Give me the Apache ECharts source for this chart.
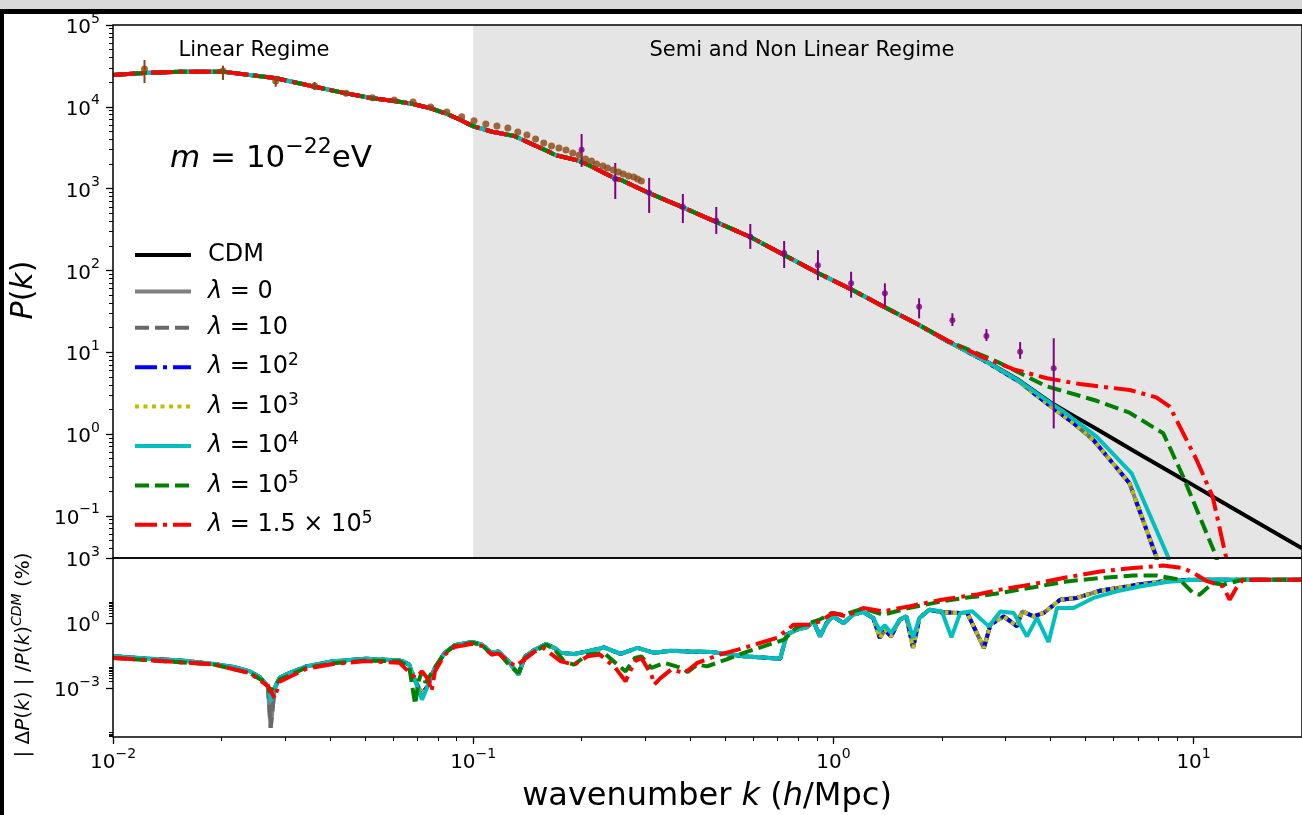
<!DOCTYPE html>
<html>
<head>
<meta charset="utf-8">
<title>P(k) for m = 1e-22 eV</title>
<script src="https://cdn.jsdelivr.net/npm/echarts@6/dist/echarts.min.js"></script>
<style>
  html, body { margin: 0; padding: 0; background: #fff; }
  #chart { width: 1302px; height: 815px; }
</style>
</head>
<body>
<div id="chart"></div>
<script>
const FONT = 'DejaVu Sans'

// ---- tick values ----
const xTicks = [0.01, 0.1, 1, 10]
const yTopTicks = [0.1, 1, 10, 100, 1e3, 1e4, 1e5]
const yBotTicks = [1e-3, 1, 1e3]

// ---- legend names ----
const names = ['CDM', 'λ=0', 'λ=10', 'λ=10^2', 'λ=10^3', 'λ=10^4', 'λ=10^5', 'λ=1.5×10^5']

// ---- power spectrum, CDM (shared by all models at low k) ----
const cdmPk = [
  [0.01, 24500], [0.0122, 25900], [0.0154, 26900], [0.0202, 26900], [0.0284, 22300],
  [0.0363, 17600], [0.0444, 14600], [0.0525, 12700], [0.0604, 11800], [0.0681, 10800],
  [0.0762, 9600], [0.0845, 8170], [0.0923, 6900], [0.0995, 5820], [0.113, 4960],
  [0.130, 4400], [0.136, 4010], [0.162, 2830], [0.169, 2570], [0.193, 2240],
  [0.204, 2040], [0.247, 1340], [0.258, 1270], [0.306, 891], [0.382, 590],
  [0.588, 256], [0.906, 93], [1.12, 58.7], [1.38, 36], [1.71, 22.1],
  [2.09, 13.4], [2.62, 8.04], [3.27, 4.57], [4.0, 2.45], [4.7, 1.62],
  [5.38, 1.15], [6.96, 0.59], [9.65, 0.258], [12.6, 0.13], [20, 0.040]
]
// high-k tails of the models
const tailLow = [[2.09, 13.3], [2.62, 7.9], [3.27, 4.4], [4.0, 2.2], [4.7, 1.3], [5.27, 0.845], [6.64, 0.25], [7.88, 0.0317], [8.6, 0.003]]
const tailCyan = [[2.09, 13.4], [2.62, 8.0], [3.27, 4.5], [4.0, 2.4], [4.36, 1.87], [5.38, 0.927], [6.73, 0.331], [8.49, 0.0317], [9.2, 0.003]]
const tailGreen = [[2.09, 13.6], [2.85, 7.65], [3.89, 3.86], [5.38, 2.55], [6.64, 1.82], [8.24, 1.02], [9.36, 0.30], [11.56, 0.0317], [12.5, 0.003]]
const tailRed = [[2.09, 13.6], [2.62, 8.6], [3.17, 6.18], [3.92, 4.80], [4.84, 4.08], [6.65, 3.45], [7.88, 2.81], [8.59, 2.16], [10.2, 0.481], [11.3, 0.171], [12.3, 0.0317], [13.2, 0.003]]

// ---- data points ----
const brownPts = [
  [0.01223, 28970], [0.0202, 27400], [0.0283, 20650], [0.0363, 17950], [0.0444, 14620],
  [0.0525, 12900], [0.0604, 12100], [0.0681, 11450], [0.0762, 9950], [0.0845, 8640],
  [0.0929, 7560], [0.1005, 6760], [0.1084, 6160], [0.1164, 5820], [0.1248, 5510],
  [0.133, 4920], [0.141, 4520], [0.149, 4040], [0.157, 3610], [0.165, 3320],
  [0.173, 3130], [0.181, 2960], [0.189, 2720], [0.197, 2570], [0.205, 2300],
  [0.213, 2170], [0.220, 2000], [0.229, 1890], [0.236, 1790], [0.245, 1690],
  [0.253, 1600], [0.261, 1510], [0.270, 1430], [0.279, 1390], [0.286, 1310], [0.293, 1240]
]
const brownErr = [[0.01223, 19540, 37300], [0.0202, 21300, 31800], [0.0283, 17600, 23300], [0.0363, 16000, 20100]]
const purplePts = [
  [0.2, 2990], [0.248, 1310], [0.308, 891], [0.382, 596], [0.473, 405], [0.588, 258],
  [0.730, 163], [0.906, 116], [1.12, 69.5], [1.39, 52.5], [1.73, 36], [2.14, 24.5],
  [2.66, 15.8], [3.30, 10.1], [4.09, 6.36]
]
const purpleErr = [
  [0.2, 1840, 4650], [0.248, 747, 2060], [0.308, 504, 1350], [0.382, 379, 859],
  [0.473, 279, 596], [0.588, 183, 369], [0.730, 107, 229], [0.906, 76, 177],
  [1.12, 46.4, 96.4], [1.39, 36, 69.5], [1.73, 25.9, 45.6], [2.14, 20.9, 29.9],
  [2.66, 13.7, 19.2], [3.30, 8.3, 13.3], [4.09, 1.17, 14.8]
]

// ---- |dP|/P_CDM (%) ----
const relLow = [
  [0.01, 0.0295], [0.0127, 0.0229], [0.0157, 0.0186], [0.019, 0.0132], [0.0216, 0.0095],
  [0.024, 0.0060], [0.0256, 0.0032], [0.0269, 0.00123], [0.0274, 0.0005], [0.0281, 0.0010],
  [0.029, 0.0030], [0.0309, 0.0050], [0.0344, 0.0102], [0.0408, 0.0174], [0.0504, 0.0229],
  [0.0624, 0.019], [0.0637, 0.0174], [0.0664, 0.0123], [0.0691, 0.0021], [0.0721, 0.00051],
  [0.0751, 0.00148], [0.0783, 0.0087], [0.0833, 0.0427], [0.0887, 0.095], [0.0994, 0.135],
  [0.1058, 0.102], [0.1126, 0.0427], [0.1174, 0.050], [0.1254, 0.0174], [0.1335, 0.0043],
  [0.1393, 0.0295], [0.1483, 0.060], [0.1595, 0.110], [0.1681, 0.072], [0.1752, 0.0427],
  [0.1906, 0.038], [0.2076, 0.050], [0.2307, 0.076], [0.2568, 0.038], [0.2859, 0.072],
  [0.3182, 0.043], [0.3542, 0.054], [0.3941, 0.050], [0.457, 0.047], [0.5637, 0.0295],
  [0.7117, 0.023], [0.7419, 0.295], [0.7914, 0.50], [0.8439, 0.65], [0.8808, 1.2],
  [0.9181, 0.245], [0.9575, 1.0], [0.9984, 2.04], [1.066, 1.0], [1.134, 2.45],
  [1.21, 3.24], [1.29, 1.74], [1.346, 0.21], [1.389, 0.50], [1.446, 0.245],
  [1.529, 1.45], [1.595, 2.04], [1.664, 0.072], [1.734, 1.74], [1.847, 4.17],
  [2.0, 3.16], [2.25, 2.95], [2.353, 2.95], [2.617, 0.072], [2.729, 0.85],
  [2.972, 2.04], [3.236, 0.71], [3.339, 3.47], [3.597, 2.04], [3.835, 2.95],
  [4.262, 12], [4.741, 14.5], [5.499, 31], [6.801, 55], [8.41, 89], [10, 100], [20, 100]
]
const greyDip = [0.0274, 1.5e-5]
const cyanDips = [[0.0274, 0.00025], [0.0721, 0.0003]]
const relCyanTail = [
  [1.346, 0.45], [1.389, 0.79], [1.446, 0.35], [1.529, 1.45], [1.595, 2.04], [1.664, 0.21],
  [1.734, 1.74], [1.847, 4.17], [2.0, 3.55], [2.127, 0.22], [2.25, 2.95], [2.43, 3.55],
  [2.701, 0.71], [2.908, 3.47], [3.167, 2.95], [3.447, 0.245], [3.674, 1.74], [3.959, 0.135],
  [4.178, 5.0], [4.643, 5.0], [5.272, 14.5], [6.116, 29], [7.093, 49], [8.41, 79], [10, 100], [20, 100]
]
const relGreen = [
  [0.01, 0.025], [0.019, 0.0126], [0.024, 0.005], [0.0269, 0.0016], [0.0272, 0.00063],
  [0.029, 0.0025], [0.0344, 0.0089], [0.0408, 0.0141], [0.0504, 0.019], [0.0624, 0.0174],
  [0.0664, 0.0102], [0.069, 0.00018], [0.0705, 0.0021], [0.0721, 0.006], [0.0737, 0.0018],
  [0.0783, 0.0087], [0.0833, 0.040], [0.0887, 0.089], [0.0994, 0.126], [0.1058, 0.095],
  [0.1126, 0.0355], [0.1174, 0.045], [0.1254, 0.0126], [0.1335, 0.005], [0.1393, 0.025],
  [0.1483, 0.050], [0.1595, 0.10], [0.1681, 0.063], [0.1787, 0.0174], [0.1906, 0.0123],
  [0.2076, 0.0355], [0.2307, 0.0427], [0.2483, 0.0148], [0.2648, 0.006], [0.2812, 0.025],
  [0.2929, 0.0295], [0.3124, 0.0087], [0.3396, 0.0148], [0.3788, 0.0087], [0.3941, 0.0056],
  [0.4191, 0.0123], [0.4456, 0.0102], [0.5037, 0.021], [0.5637, 0.0427], [0.7299, 0.174],
  [0.7914, 0.65], [0.9165, 1.45], [0.9878, 2.95], [1.066, 2.45], [1.21, 4.7],
  [1.375, 2.45], [1.621, 5.0], [1.998, 10], [2.353, 15], [2.51, 17], [2.908, 24.5],
  [3.597, 45], [4.448, 83], [5.499, 120], [6.801, 155], [7.889, 155], [9.155, 100],
  [9.968, 24.5], [10.39, 20.4], [11.32, 71], [12.07, 59], [13.71, 100], [20, 100]
]
const relRed = [
  [0.01, 0.025], [0.019, 0.0126], [0.024, 0.005], [0.0269, 0.00126], [0.0281, 0.00035],
  [0.029, 0.002], [0.0344, 0.0079], [0.0408, 0.0132], [0.0504, 0.0178], [0.0624, 0.0148],
  [0.0691, 0.003], [0.0721, 0.006], [0.0751, 0.0025], [0.0766, 0.00072], [0.0783, 0.006],
  [0.0833, 0.0355], [0.0887, 0.079], [0.0994, 0.112], [0.1058, 0.089], [0.1126, 0.0355],
  [0.1174, 0.040], [0.1311, 0.0102], [0.1483, 0.050], [0.1566, 0.072], [0.1752, 0.0174],
  [0.1906, 0.0123], [0.2076, 0.0295], [0.2247, 0.0355], [0.2483, 0.0087], [0.2648, 0.0021],
  [0.2812, 0.0174], [0.2929, 0.025], [0.3124, 0.0043], [0.3182, 0.00148], [0.3319, 0.003],
  [0.3542, 0.0072], [0.3869, 0.0051], [0.4191, 0.0148], [0.4835, 0.0355], [0.5637, 0.072],
  [0.6973, 0.21], [0.7762, 0.85], [0.8596, 0.85], [0.9181, 1.2], [0.9984, 2.95],
  [1.081, 2.04], [1.21, 5.0], [1.375, 3.47], [1.621, 5.9], [1.998, 12], [2.51, 21],
  [2.908, 35], [3.597, 63], [4.448, 129], [5.499, 240], [6.801, 347], [8.234, 447],
  [9.355, 347], [10.18, 170], [10.85, 89], [12.07, 49], [12.59, 12], [13.14, 42],
  [13.71, 100], [20, 100]
]

// ---- build helpers ----
function withTail(tail) {
  return cdmPk.filter(p => p[0] < tail[0][0]).concat(tail)
}
function override(base, pts) {
  return base.map(p => {
    const hit = pts.find(q => q[0] === p[0])
    return hit || p
  })
}
const relGrey = override(relLow, [greyDip])
const relCyan = override(relLow, cyanDips).filter(p => p[0] < relCyanTail[0][0]).concat(relCyanTail)

function minorTicks(lo, hi, from, to) {
  const out = []
  for (let e = from; e <= to; e++) {
    for (let m = 2; m <= 9; m++) {
      const v = m * Math.pow(10, e)
      if (v > lo && v < hi) out.push(v)
    }
  }
  return out
}
const X_MIN = 0.01, X_MAX = 20
const YT_MIN = 0.0305, YT_MAX = 1e5
const YB_MIN = 5.7e-6, YB_MAX = 1000
const xMinor = minorTicks(X_MIN, X_MAX, -2, 1)
const yTopMinor = minorTicks(YT_MIN, YT_MAX, -2, 4)
const yBotMinor = [].concat(minorTicks(YB_MIN, YB_MAX, -6, -6), minorTicks(YB_MIN, YB_MAX, -3, -3), minorTicks(YB_MIN, YB_MAX, 0, 0))

// ---- styles ----
const DASHED = [14, 6]
const DASHDOT = [22, 6, 4, 6]
const DOTTED = [4, 4.5]
const styles = {
  'CDM': ['#000000', 'solid'],
  'λ=0': ['#808080', 'solid'],
  'λ=10': ['#696969', DASHED],
  'λ=10^2': ['#0000ff', DASHDOT],
  'λ=10^3': ['#bfbf00', DOTTED],
  'λ=10^4': ['#00bfbf', 'solid'],
  'λ=10^5': ['#008000', DASHED],
  'λ=1.5×10^5': ['#ff0000', DASHDOT]
}

function sup10(v) {
  const e = Math.round(Math.log10(v))
  return '{b|10}{s|' + (e < 0 ? '\u2212' + (-e) : e) + '}'
}
const tickRich = {
  b: { fontFamily: FONT, fontSize: 20, color: '#000', lineHeight: 26, verticalAlign: 'bottom' },
  s: { fontFamily: FONT, fontSize: 14, color: '#000', lineHeight: 14, verticalAlign: 'top' }
}

function legendText(name) {
  if (name === 'CDM') return '{g|}{t|CDM}'
  const rhs = name.split('=')[1].split('^')
  let out = '{g|}{i|λ}{t| = ' + rhs[0].replace('×', ' × ') + '}'
  if (rhs[1]) out += '{s|' + rhs[1] + '}'
  return out
}

function line(name, data, xi, yi) {
  const st = styles[name]
  return {
    type: 'line', name: name, data: data, xAxisIndex: xi, yAxisIndex: yi,
    symbol: 'none', showSymbol: false, clip: true, silent: true, z: 2,
    lineStyle: { color: st[0], width: 4, type: st[1] },
    itemStyle: { color: st[0] }
  }
}

function errorBars(color) {
  return function (params, api) {
    const a = api.coord([api.value(0), api.value(1)])
    const b = api.coord([api.value(0), api.value(2)])
    return {
      type: 'line',
      shape: { x1: a[0], y1: a[1], x2: b[0], y2: b[1] },
      style: { stroke: color, lineWidth: 2 }
    }
  }
}

function logAxis(grid, min, max, extra) {
  return Object.assign({
    gridIndex: grid, type: 'log', logBase: 10, min: min, max: max,
    axisLine: { show: false },
    splitLine: { show: false },
    axisTick: { show: false },
    axisLabel: { show: false }
  }, extra)
}
const majorTick = vals => ({ show: true, length: 7, lineStyle: { color: '#000', width: 1.3 }, customValues: vals })
const minorTick = vals => ({ show: true, length: 4, lineStyle: { color: '#000', width: 1 }, customValues: vals })
const tickLabel = (vals, margin) => ({ show: true, customValues: vals, formatter: sup10, margin: margin, rich: tickRich })

const chart = echarts.init(document.getElementById('chart'))

const series = [
  {
    type: 'line', xAxisIndex: 0, yAxisIndex: 0, data: [], silent: true,
    markArea: { silent: true, itemStyle: { color: '#e5e5e5' }, data: [[{ xAxis: 0.1 }, { xAxis: X_MAX }]] }
  },
  line('CDM', cdmPk, 0, 0),
  line('λ=0', withTail(tailLow), 0, 0),
  line('λ=10', withTail(tailLow), 0, 0),
  line('λ=10^2', withTail(tailLow), 0, 0),
  line('λ=10^3', withTail(tailLow), 0, 0),
  line('λ=10^4', withTail(tailCyan), 0, 0),
  line('λ=10^5', withTail(tailGreen), 0, 0),
  line('λ=1.5×10^5', withTail(tailRed), 0, 0),
  line('λ=0', relGrey, 1, 1),
  line('λ=10', relGrey, 1, 1),
  line('λ=10^2', relLow, 1, 1),
  line('λ=10^3', relLow, 1, 1),
  line('λ=10^4', relCyan, 1, 1),
  line('λ=10^5', relGreen, 1, 1),
  line('λ=1.5×10^5', relRed, 1, 1),
  {
    type: 'custom', xAxisIndex: 0, yAxisIndex: 0, z: 5, silent: true,
    renderItem: errorBars('#8b4513'), data: brownErr, encode: { x: 0, y: [1, 2] }
  },
  {
    type: 'custom', xAxisIndex: 0, yAxisIndex: 0, z: 5, silent: true,
    renderItem: errorBars('#800080'), data: purpleErr, encode: { x: 0, y: [1, 2] }
  },
  {
    type: 'scatter', xAxisIndex: 0, yAxisIndex: 0, z: 6, silent: true,
    symbol: 'circle', symbolSize: 7, itemStyle: { color: '#8b4513' }, data: brownPts
  },
  {
    type: 'scatter', xAxisIndex: 0, yAxisIndex: 0, z: 6, silent: true,
    symbol: 'circle', symbolSize: 6, itemStyle: { color: '#800080' }, data: purplePts
  }
]

const option = {
  backgroundColor: '#ffffff',
  animation: false,
  textStyle: { fontFamily: FONT },
  grid: [
    { left: 113, top: 25, width: 1193, height: 533, show: true, z: 3, borderColor: '#000', borderWidth: 1.5, backgroundColor: 'transparent' },
    { left: 113, top: 558, width: 1193, height: 179, show: true, z: 3, borderColor: '#000', borderWidth: 1.5, backgroundColor: 'transparent' }
  ],
  xAxis: [
    logAxis(0, X_MIN, X_MAX, {}),
    logAxis(1, X_MIN, X_MAX, { position: 'bottom', axisTick: majorTick(xTicks), axisLabel: tickLabel(xTicks, 10) }),
    logAxis(1, X_MIN, X_MAX, { position: 'bottom', axisTick: minorTick(xMinor) })
  ],
  yAxis: [
    logAxis(0, YT_MIN, YT_MAX, { position: 'left', axisTick: majorTick(yTopTicks), axisLabel: tickLabel(yTopTicks, 13) }),
    logAxis(1, YB_MIN, YB_MAX, { position: 'left', axisTick: majorTick(yBotTicks), axisLabel: tickLabel(yBotTicks, 13) }),
    logAxis(0, YT_MIN, YT_MAX, { position: 'left', axisTick: minorTick(yTopMinor) }),
    logAxis(1, YB_MIN, YB_MAX, { position: 'left', axisTick: minorTick(yBotMinor) })
  ],
  legend: {
    orient: 'vertical', left: 133, top: 243, padding: 0,
    itemWidth: 56, itemHeight: 14, itemGap: 12.4,
    selectedMode: false,
    data: names,
    formatter: legendText,
    itemStyle: { opacity: 0 },
    lineStyle: { width: 4 },
    textStyle: {
      fontFamily: FONT, fontSize: 24, color: '#000',
      rich: {
        g: { width: 12 },
        t: { fontFamily: FONT, fontSize: 24, color: '#000', lineHeight: 30 },
        i: { fontFamily: FONT, fontSize: 24, color: '#000', lineHeight: 30, fontStyle: 'italic' },
        s: { fontFamily: FONT, fontSize: 17, color: '#000', lineHeight: 17, verticalAlign: 'top' }
      }
    }
  },
  graphic: [
    { type: 'rect', z: 100, shape: { x: 0, y: 0, width: 1302, height: 9 }, style: { fill: '#d9d9d9' } },
    { type: 'rect', z: 100, shape: { x: 0, y: 9, width: 1302, height: 5 }, style: { fill: '#000' } },
    { type: 'rect', z: 100, shape: { x: 0, y: 9, width: 4, height: 806 }, style: { fill: '#000' } },
    {
      type: 'text', z: 50, x: 254, y: 51,
      style: { text: 'Linear Regime', font: '21px "DejaVu Sans"', fill: '#000', align: 'center', verticalAlign: 'middle' }
    },
    {
      type: 'text', z: 50, x: 802, y: 51,
      style: { text: 'Semi and Non Linear Regime', font: '21px "DejaVu Sans"', fill: '#000', align: 'center', verticalAlign: 'middle' }
    },
    {
      type: 'text', z: 50, x: 170, y: 155,
      style: {
        text: '{i|m}{t| = 10}{s|\u221222}{t|eV}', align: 'left', verticalAlign: 'middle',
        rich: {
          t: { fontFamily: FONT, fontSize: 31, fill: '#000', lineHeight: 38, verticalAlign: 'bottom' },
          i: { fontFamily: FONT, fontSize: 31, fill: '#000', lineHeight: 38, verticalAlign: 'bottom', fontStyle: 'italic' },
          s: { fontFamily: FONT, fontSize: 22, fill: '#000', lineHeight: 22, verticalAlign: 'top' }
        }
      }
    },
    {
      type: 'text', z: 50, x: 24, y: 290, rotation: Math.PI / 2,
      style: {
        text: '{i|P}{t|(}{i|k}{t|)}', align: 'center', verticalAlign: 'middle',
        rich: {
          t: { fontFamily: FONT, fontSize: 30, fill: '#000' },
          i: { fontFamily: FONT, fontSize: 30, fill: '#000', fontStyle: 'italic' }
        }
      }
    },
    {
      type: 'text', z: 50, x: 22, y: 655, rotation: Math.PI / 2,
      style: {
        text: '{t|| Δ}{i|P}{t|(}{i|k}{t|) | /}{i|P}{t|(}{i|k}{t|)}{s|CDM}{t| (%)}', align: 'center', verticalAlign: 'middle',
        rich: {
          t: { fontFamily: FONT, fontSize: 20, fill: '#000', lineHeight: 24, verticalAlign: 'bottom' },
          i: { fontFamily: FONT, fontSize: 20, fill: '#000', lineHeight: 24, verticalAlign: 'bottom', fontStyle: 'italic' },
          s: { fontFamily: FONT, fontSize: 14, fill: '#000', lineHeight: 14, verticalAlign: 'top', fontStyle: 'italic' }
        }
      }
    },
    {
      type: 'text', z: 50, x: 707, y: 797,
      style: {
        text: '{t|wavenumber }{i|k}{t| (}{i|h}{t|/Mpc)}', align: 'center', verticalAlign: 'middle',
        rich: {
          t: { fontFamily: FONT, fontSize: 32, fill: '#000' },
          i: { fontFamily: FONT, fontSize: 32, fill: '#000', fontStyle: 'italic' }
        }
      }
    }
  ],
  series: series
}

chart.setOption(option)
</script>
</body>
</html>
